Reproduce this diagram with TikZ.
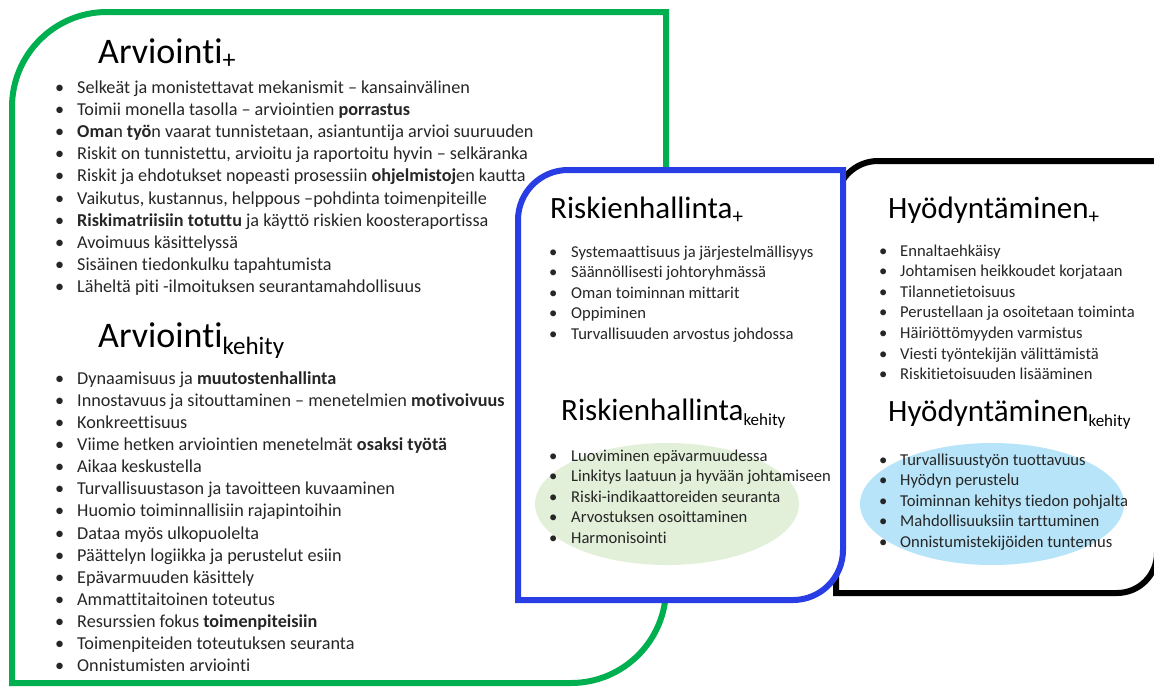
\documentclass[tikz,border=0pt]{standalone}
\usepackage{fontspec}
\setmainfont{Carlito}[Ligatures=NoCommon]

\definecolor{arvgreen}{RGB}{0,176,80}
\definecolor{riskblue}{RGB}{40,62,228}
\definecolor{softgreen}{RGB}{226,240,217}
\definecolor{softblue}{RGB}{183,228,248}
\definecolor{txtgray}{RGB}{38,38,38}

% bullet with a fixed indent, and a lowered small index for the headings
\newcommand{\bul}[1]{\makebox[#1pt][l]{•}}
\newcommand{\idx}[3]{\raisebox{-#1pt}{\fontsize{#2}{#2}\selectfont #3}}

\begin{document}
\begin{tikzpicture}[x=1pt, y=-1pt,
		bodytxt/.style={anchor=base west, inner sep=0pt, text=txtgray},
		leftitem/.style={bodytxt, font=\fontsize{18.2}{20}\selectfont},
		rightitem/.style={bodytxt, font=\fontsize{16.6}{20}\selectfont},
		lefthead/.style={anchor=base west, inner sep=0pt, font=\fontsize{36}{40}\selectfont},
		righthead/.style={anchor=base west, inner sep=0pt, font=\fontsize{31}{36}\selectfont}]

		\useasboundingbox (0,0) rectangle (1154,686);

		% frames
		\draw[arvgreen, line width=6] (12,683) -- (12,107) arc[start angle=180, end angle=270, radius=95]
			-- (666,12) -- (666,588) arc[start angle=0, end angle=90, radius=95] -- cycle;
		\draw[black, line width=6] (836,593) -- (836,203) arc[start angle=180, end angle=270, radius=42]
			-- (1157,161) -- (1157,553) arc[start angle=0, end angle=90, radius=40] -- cycle;
		\draw[riskblue, line width=6, fill=white] (518,600) -- (518,220) arc[start angle=180, end angle=270, radius=50]
			-- (843,170) -- (843,550) arc[start angle=0, end angle=90, radius=50] -- cycle;

		\fill[softgreen] (667,504) ellipse [x radius=132, y radius=61];
		\fill[softblue] (992,504) ellipse [x radius=132, y radius=61];

		% Arviointi
		\node[lefthead] (AP) at (98,63) {Arviointi\idx{5}{26}{+}};
		\foreach \t [count=\i from 0] in {
			Selkeät ja monistettavat mekanismit – kansainvälinen,
			Toimii monella tasolla – arviointien \textbf{porrastus},
			{\textbf{Oma}n \textbf{työ}n vaarat tunnistetaan, asiantuntija arvioi suuruuden},
			{Riskit on tunnistettu, arvioitu ja raportoitu hyvin – selkäranka},
			Riskit ja ehdotukset nopeasti prosessiin \textbf{ohjelmistoj}en kautta,
			{Vaikutus, kustannus, helppous –pohdinta toimenpiteille},
			\textbf{Riskimatriisiin totuttu} ja käyttö riskien koosteraportissa,
			Avoimuus käsittelyssä,
			Sisäinen tiedonkulku tapahtumista,
			Läheltä piti -ilmoituksen seurantamahdollisuus}
			\node[leftitem] (AP\i) at (55,{93+22.2*\i}) {\bul{22}\t};

		\node[lefthead] (AK) at (98,347) {Arviointi\idx{7}{25}{kehity}};
		\foreach \t [count=\i from 0] in {
			Dynaamisuus ja \textbf{muutostenhallinta},
			Innostavuus ja sitouttaminen – menetelmien \textbf{motivoivuus},
			Konkreettisuus,
			Viime hetken arviointien menetelmät \textbf{osaksi työtä},
			Aikaa keskustella,
			Turvallisuustason ja tavoitteen kuvaaminen,
			Huomio toiminnallisiin rajapintoihin,
			Dataa myös ulkopuolelta,
			Päättelyn logiikka ja perustelut esiin,
			Epävarmuuden käsittely,
			Ammattitaitoinen toteutus,
			Resurssien fokus \textbf{toimenpiteisiin},
			Toimenpiteiden toteutuksen seuranta,
			Onnistumisten arviointi}
			\node[leftitem] (AK\i) at (55,{384+22.15*\i}) {\bul{22}\t};

		% Riskienhallinta
		\node[righthead] (RP) at (550,218) {Riskienhallinta\idx{5}{21}{+}};
		\foreach \t [count=\i from 0] in {
			Systemaattisuus ja järjestelmällisyys,
			Säännöllisesti johtoryhmässä,
			Oman toiminnan mittarit,
			Oppiminen,
			Turvallisuuden arvostus johdossa}
			\node[rightitem] (RP\i) at (549,{257+20.6*\i}) {\bul{22}\t};

		\node[righthead] (RK) at (561,420) {Riskienhallinta\idx{5}{17}{kehity}};
		\foreach \t [count=\i from 0] in {
			Luoviminen epävarmuudessa,
			Linkitys laatuun ja hyvään johtamiseen,
			Riski-indikaattoreiden seuranta,
			Arvostuksen osoittaminen,
			Harmonisointi}
			\node[rightitem] (RK\i) at (549,{461+20.6*\i}) {\bul{22}\t};

		% Hyödyntäminen
		\node[righthead] (HP) at (888,218) {Hyödyntäminen\idx{5}{21}{+}};
		\foreach \t [count=\i from 0] in {
			Ennaltaehkäisy,
			Johtamisen heikkoudet korjataan,
			Tilannetietoisuus,
			Perustellaan ja osoitetaan toiminta,
			Häiriöttömyyden varmistus,
			Viesti työntekijän välittämistä,
			Riskitietoisuuden lisääminen}
			\node[rightitem] (HP\i) at (879,{256+20.6*\i}) {\bul{21}\t};

		\node[righthead] (HK) at (888,421) {Hyödyntäminen\idx{5}{17}{kehity}};
		\foreach \t [count=\i from 0] in {
			Turvallisuustyön tuottavuus,
			Hyödyn perustelu,
			Toiminnan kehitys tiedon pohjalta,
			Mahdollisuuksiin tarttuminen,
			Onnistumistekijöiden tuntemus}
			\node[rightitem] (HK\i) at (879,{465+20.6*\i}) {\bul{21}\t};
	\end{tikzpicture}
\end{document}
